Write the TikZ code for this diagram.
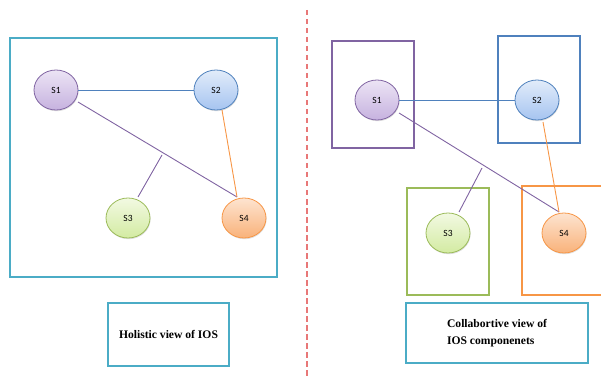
\documentclass[tikz,border=0pt]{standalone}
\usepackage{fontspec}
\setmainfont{Liberation Serif}
\newfontfamily\nodefont{Carlito}
\usetikzlibrary{shadows,shapes.geometric}
\definecolor{teal}{HTML}{4BACC6}
\definecolor{cpurple}{HTML}{8064A2}
\definecolor{cblue}{HTML}{4F81BD}
\definecolor{cgreen}{HTML}{9BBB59}
\definecolor{corange}{HTML}{F79646}
\definecolor{dashred}{RGB}{232,120,120}
\definecolor{p1}{HTML}{ECE4F5}\definecolor{p2}{HTML}{C6B2DF}
\definecolor{b1}{HTML}{E2ECFA}\definecolor{b2}{HTML}{A6C4F0}
\definecolor{g1}{HTML}{F2F9E2}\definecolor{g2}{HTML}{D3EBA2}
\definecolor{o1}{HTML}{FDE4D0}\definecolor{o2}{HTML}{F9B27A}
\tikzset{
  x=1pt, y=-1pt,
  srv/.style={ellipse, minimum width=44pt, minimum height=40pt, inner sep=0pt,
    line width=0.8pt, font=\nodefont\fontsize{9.5}{10}\selectfont,
    drop shadow={shadow xshift=0.6pt, shadow yshift=-1.2pt, opacity=0.25}},
  sv1/.style={srv, draw=cpurple, top color=p1, bottom color=p2},
  sv2/.style={srv, draw=cblue, top color=b1, bottom color=b2},
  sv3/.style={srv, draw=cgreen, top color=g1, bottom color=g2},
  sv4/.style={srv, draw=corange, top color=o1, bottom color=o2},
  link/.style={line width=0.9pt},
  panel/.style={draw=teal, line width=2.6pt},
  cbox/.style={line width=2.6pt},
  divider/.style={draw=dashred, line width=1.1pt, dash pattern=on 5.5pt off 3.5pt},
  labelbox/.style={draw=teal, line width=2.6pt, font=\bfseries\fontsize{11.6}{17}\selectfont},
}
\begin{document}
\begin{tikzpicture}
\useasboundingbox (0,0) rectangle (601,379);
% left panel
\draw[panel] (10,38) rectangle (277,277);
\node[sv1] (a1) at (56,90) {S1};
\node[sv2] (a2) at (216,90) {S2};
\node[sv3] (a3) at (128,218) {S3};
\node[sv4] (a4) at (244,218) {S4};
\coordinate (j1) at (162,155);
\coordinate (a4t) at (237,197);
\draw[link, cblue] (a1) -- (a2);
\draw[link, cpurple] (78,102) -- (a4t);
\draw[link, cpurple] (j1) -- (138,197);
\draw[link, corange] (222,110) -- (a4t);
% divider
\coordinate (dtop) at (307,10);
\coordinate (dbot) at (307,379);
\draw[divider] (dtop) -- (dbot);
% right panel boxes
\draw[cbox, cpurple] (332,41) rectangle (414,148);
\draw[cbox, cblue] (498,36) rectangle (580,143);
\draw[cbox, cgreen] (407,188) rectangle (489,295);
\draw[cbox, corange] (522,186) rectangle (606,295);
\node[sv1] (b1) at (377,100) {S1};
\node[sv2] (b2) at (537,100) {S2};
\node[sv3] (b3) at (448,233) {S3};
\node[sv4] (b4) at (564,233) {S4};
\coordinate (j2) at (482,168);
\coordinate (b4t) at (559,212);
\draw[link, cblue] (b1) -- (b2);
\draw[link, cpurple] (399,113) -- (b4t);
\draw[link, cpurple] (j2) -- (459,212);
\draw[link, corange] (543,122) -- (b4t);
% labels
\node[labelbox, minimum width=121pt, minimum height=63pt] (l1) at (168.5,334.5) {Holistic view of IOS};
\node[labelbox, minimum width=182pt, minimum height=60pt, align=left] (l2) at (497,333) {Collabortive view of\\IOS componenets};
\end{tikzpicture}
\end{document}
